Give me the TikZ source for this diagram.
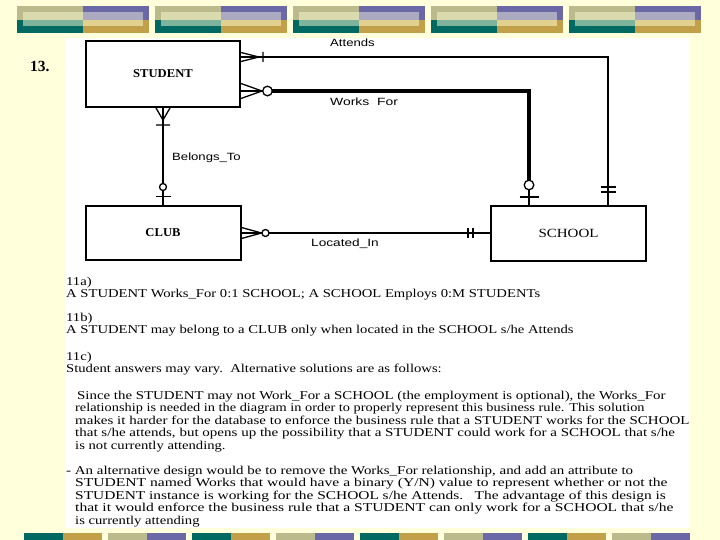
\documentclass[tikz,border=0pt]{standalone}
\usepackage{fontspec}
\usepackage{graphicx}
\usetikzlibrary{calc}
\setmainfont{Liberation Serif}
\newfontfamily\bodyfont{Liberation Serif}[FakeStretch=1.22]
\newfontfamily\labfont{Liberation Sans}[FakeStretch=1.25]
\newfontfamily\entfont{Liberation Serif}[FakeStretch=1.05]
\newfontfamily\entfontwide{Liberation Serif}[FakeStretch=1.2]
\newcommand\xsq[2]{\scalebox{#1}[1]{#2}}
\definecolor{bgYellow}{HTML}{FFFFDC}
\definecolor{bnKhaki}{HTML}{BABA8C}
\definecolor{bnKhakiL}{HTML}{D9DBAF}
\definecolor{bnPurp}{HTML}{6A68A6}
\definecolor{bnPurpL}{HTML}{ABAAC1}
\definecolor{bnTeal}{HTML}{006A62}
\definecolor{bnTealL}{HTML}{7DB49B}
\definecolor{bnGold}{HTML}{C29F49}
\definecolor{bnGoldL}{HTML}{E2D08F}
\begin{document}
\begin{tikzpicture}[x=1pt,y=-1pt,
  entity/.style={draw, line width=2pt, rectangle, inner sep=0pt, font=\entfont\bfseries\fontsize{12}{12}\selectfont},
  rel/.style={line width=1.3pt},
  thickrel/.style={line width=4pt},
  hole/.style={line width=1.3pt, fill=white},
  lab/.style={anchor=base west, inner sep=0pt, font=\labfont\fontsize{10.5}{10.5}\selectfont},
  txt/.style={anchor=base west, inner sep=0pt, font=\bodyfont\fontsize{12}{12}\selectfont}]
\useasboundingbox (0,0) rectangle (720,540);
\fill[bgYellow] (0,0) rectangle (720,540);
\fill[white] (66,38) rectangle (690,528);
% top banner
\foreach \x in {17,155,293,431,569}{
  \fill[bnKhaki] (\x,6) rectangle (\x+66,20);
  \fill[bnPurp] (\x+66,6) rectangle (\x+132,20);
  \fill[bnTeal] (\x,20) rectangle (\x+66,33);
  \fill[bnGold] (\x+66,20) rectangle (\x+132,33);
  \fill[bnKhakiL] (\x+6,12) rectangle (\x+66,20);
  \fill[bnPurpL] (\x+66,12) rectangle (\x+126,20);
  \fill[bnTealL] (\x+6,20) rectangle (\x+66,26);
  \fill[bnGoldL] (\x+66,20) rectangle (\x+126,26);
}
% bottom banner
\foreach \x/\ca/\cb in {24/bnTeal/bnGold,108/bnKhaki/bnPurp,192/bnTeal/bnGold,276/bnKhaki/bnPurp,360/bnTeal/bnGold,444/bnKhaki/bnPurp,528/bnTeal/bnGold,612/bnKhaki/bnPurp}{
  \fill[\ca] (\x,533) rectangle (\x+39,540);
  \fill[\cb] (\x+39,533) rectangle (\x+78,540);
}
% number
\node[anchor=base west, inner sep=0pt, font=\bfseries\fontsize{15.5}{15.5}\selectfont] (num) at (30,72) {13.};
% entities
\node[entity, minimum width=154pt, minimum height=66pt] (student) at (163,74) {STUDENT};
\node[entity, minimum width=155pt, minimum height=54pt] (club) at (163,233) {CLUB};
\node[entity, minimum width=155pt, minimum height=55pt, font=\entfontwide\fontsize{12.5}{12.5}\selectfont] (school) at (568.5,233.5) {SCHOOL};
% Attends
\coordinate (attC) at (608,57);
\draw[rel] (student.east |- attC) -- (attC) -- (school.north -| attC);
\draw[rel, shift={(student.east |- attC)}] (0,-4.5) -- (18,0) -- (0,4.5) (22,-5) -- (22,5);
\draw[rel, shift={(school.north -| attC)}] (-7.5,-18) -- (7.5,-18) (-7.5,-13) -- (7.5,-13);
% Works For
\coordinate (wfC) at (529,91);
\draw[rel] (student.east |- wfC) -- ++(24,0);
\draw[thickrel] ($(student.east |- wfC)+(30,0)$) -- (wfC) -- ($(school.north -| wfC)+(0,-22)$);
\draw[rel] ($(school.north -| wfC)+(0,-22)$) -- (school.north -| wfC);
\draw[rel, shift={(student.east |- wfC)}] (0,-7.5) -- (21,0) -- (0,7.5);
\draw[hole] ($(student.east |- wfC)+(26.5,0)$) circle[radius=4.8pt];
\draw[rel, shift={(school.north -| wfC)}] (-9.5,-8) -- (9.5,-8);
\draw[hole] ($(school.north -| wfC)+(0,-20)$) circle[radius=4.8pt];
% Belongs_To
\draw[rel] (student.south) -- (club.north);
\draw[rel, shift={(student.south)}] (-7,0) -- (0,12) -- (7,0) (-7,17) -- (7,17);
\draw[rel, shift={(club.north)}] (-7.5,-8.5) -- (7.5,-8.5);
\draw[hole] ($(club.north)+(0,-18)$) circle[radius=3.5pt];
% Located_In
\draw[rel] (club.east) -- (club.east -| school.west);
\draw[rel, shift={(club.east)}] (0,-5.5) -- (20,0) -- (0,5.5);
\draw[hole] ($(club.east)+(24,0)$) circle[radius=3.5pt];
\draw[rel, shift={(club.east -| school.west)}] (-22,-4.5) -- (-22,4.5) (-17,-4.5) -- (-17,4.5);
% relationship labels
\node[lab] (lAtt) at (330,46.5) {Attends};
\node[lab] (lWF) at (330,106) {\xsq{1.06}{Works\ \ For}};
\node[lab] (lBT) at (172,160.5) {Belongs\_To};
\node[lab] (lLI) at (311,247) {\xsq{1.04}{Located\_In}};
% answers text
\node[txt] (t1) at (66,285) {11a)};
\node[txt] (t2) at (66,297) {A STUDENT Works\_For 0:1 SCHOOL; A SCHOOL Employs 0:M STUDENTs};
\node[txt] (t3) at (66,321) {11b)};
\node[txt] (t4) at (66,333) {A STUDENT may belong to a CLUB only when located in the SCHOOL s/he Attends};
\node[txt] (t5) at (66,360) {11c)};
\node[txt] (t6) at (66,372.5) {Student answers may vary.\ \ Alternative solutions are as follows:};
\node[txt] (t7) at (77,399) {\xsq{1.016}{Since the STUDENT may not Work\_For a SCHOOL (the employment is optional), the Works\_For}};
\node[txt] (t8) at (75,411.5) {\xsq{0.98}{relationship is needed in the diagram in order to properly represent this business rule. This solution}};
\node[txt] (t9) at (75,424) {\xsq{1.023}{makes it harder for the database to enforce the business rule that a STUDENT works for the SCHOOL}};
\node[txt] (t10) at (75,436.5) {\xsq{1.026}{that s/he attends, but opens up the possibility that a STUDENT could work for a SCHOOL that s/he}};
\node[txt] (t11) at (75,449) {is not currently attending.};
\node[txt] (t12) at (66,474) {\xsq{1.02}{- An alternative design would be to remove the Works\_For relationship, and add an attribute to}};
\node[txt] (t13) at (75,486.5) {\xsq{1.065}{STUDENT named Works that would have a binary (Y/N) value to represent whether or not the}};
\node[txt] (t14) at (75,499) {\xsq{1.052}{STUDENT instance is working for the SCHOOL s/he Attends.\ \ \ The advantage of this design is}};
\node[txt] (t15) at (75,511.5) {\xsq{1.064}{that it would enforce the business rule that a STUDENT can only work for a SCHOOL that s/he}};
\node[txt] (t16) at (75,524) {is currently attending};
\end{tikzpicture}
\end{document}
